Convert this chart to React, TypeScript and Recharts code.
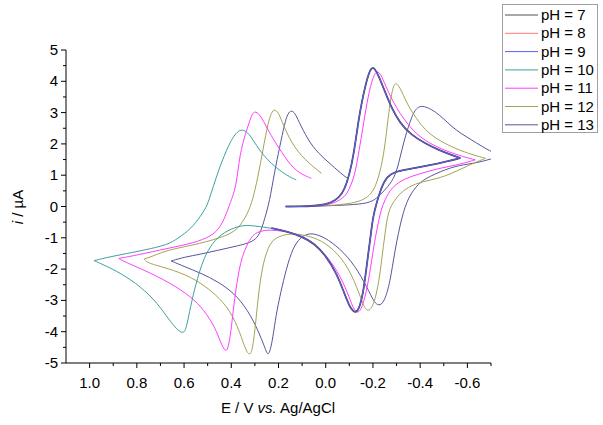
import React from "react";
import { Label, Legend, Line, LineChart, XAxis, YAxis } from "recharts";

// [E / V, i / µA], one array per scan segment
type Pt = [number, number];

// right-hand couple, shared by pH 7, 8, 9 and 10
const rightFwd: Pt[] = [
  [0.17, 0], [0.1, 0], [0.05, 0.02], [0.0, 0.06], [-0.04, 0.18], [-0.07, 0.4], [-0.09, 0.75],
  [-0.11, 1.33], [-0.125, 2.0], [-0.138, 2.71], [-0.152, 3.3], [-0.166, 3.8], [-0.18, 4.2],
  [-0.194, 4.46], [-0.208, 4.4], [-0.223, 4.2], [-0.251, 3.67], [-0.279, 3.14], [-0.315, 2.66],
  [-0.36, 2.3], [-0.42, 2.02], [-0.48, 1.8], [-0.535, 1.64], [-0.57, 1.55],
];
const rightRev: Pt[] = [
  [-0.57, 1.55], [-0.52, 1.45], [-0.478, 1.38], [-0.407, 1.27], [-0.336, 1.17], [-0.29, 1.1],
  [-0.258, 0.95], [-0.235, 0.6], [-0.215, 0.1], [-0.2, -0.33], [-0.188, -1.07], [-0.173, -1.92],
  [-0.159, -2.77], [-0.14, -3.31], [-0.123, -3.41], [-0.1, -3.2], [-0.074, -2.67], [-0.045, -2.13],
  [-0.003, -1.6], [0.047, -1.18], [0.103, -0.96], [0.16, -0.8], [0.23, -0.69],
];

// pH 10 carries on to the left-hand couple
const ph10Lower: Pt[] = [
  [0.3, -0.62], [0.345, -0.59], [0.4, -0.7], [0.457, -0.96], [0.5, -1.39], [0.529, -1.92],
  [0.557, -2.67], [0.578, -3.41], [0.59, -3.85], [0.599, -4.03], [0.612, -4.02], [0.627, -3.95],
  [0.663, -3.63], [0.712, -3.09], [0.783, -2.56], [0.868, -2.13], [0.939, -1.87], [0.981, -1.73],
];
const ph10Upper: Pt[] = [
  [0.981, -1.73], [0.911, -1.6], [0.84, -1.5], [0.769, -1.39], [0.67, -1.23], [0.627, -1.02],
  [0.571, -0.72], [0.529, -0.3], [0.5, 0.05], [0.486, 0.42], [0.465, 0.9], [0.443, 1.38],
  [0.42, 1.8], [0.4, 2.12], [0.38, 2.35], [0.358, 2.47], [0.336, 2.4], [0.316, 2.23],
  [0.273, 1.7], [0.217, 1.27], [0.16, 0.97], [0.125, 0.85],
];

const ph11Fwd: Pt[] = [
  [0.17, 0], [0.1, 0], [0.05, 0.01], [0.0, 0.04], [-0.04, 0.12], [-0.08, 0.3], [-0.1, 0.55],
  [-0.12, 0.95], [-0.13, 1.3], [-0.145, 1.95], [-0.16, 2.65], [-0.18, 3.55], [-0.2, 4.15],
  [-0.218, 4.36], [-0.235, 4.2], [-0.251, 3.9], [-0.275, 3.5], [-0.3, 3.15], [-0.33, 2.8],
  [-0.37, 2.42], [-0.42, 2.1], [-0.49, 1.83], [-0.56, 1.64], [-0.633, 1.49],
];
const ph11Rev: Pt[] = [
  [-0.633, 1.49], [-0.56, 1.33], [-0.478, 1.22], [-0.4, 1.05], [-0.336, 0.9], [-0.28, 0.63],
  [-0.25, 0.21], [-0.235, -0.1], [-0.223, -0.5], [-0.21, -1.0], [-0.2, -1.45], [-0.18, -2.45],
  [-0.16, -3.1], [-0.14, -3.44], [-0.12, -3.3], [-0.109, -3.09], [-0.074, -2.4], [-0.024, -1.76],
  [0.032, -1.28], [0.089, -0.96], [0.16, -0.8], [0.23, -0.75], [0.26, -0.76], [0.29, -0.82],
  [0.316, -0.96], [0.344, -1.39], [0.366, -1.92], [0.387, -2.99], [0.397, -3.7], [0.407, -4.3],
  [0.418, -4.63], [0.43, -4.58], [0.443, -4.37], [0.46, -4.05], [0.472, -3.84], [0.514, -3.31],
  [0.571, -2.88], [0.656, -2.45], [0.769, -2.03], [0.854, -1.76], [0.876, -1.66],
];
const ph11Upper: Pt[] = [
  [0.876, -1.66], [0.798, -1.55], [0.67, -1.34], [0.557, -1.16], [0.486, -0.96], [0.443, -0.65],
  [0.415, -0.11], [0.4, 0.2], [0.38, 0.63], [0.366, 1.49], [0.358, 1.8], [0.345, 2.2], [0.33, 2.55],
  [0.315, 2.9], [0.302, 3.06], [0.28, 2.95], [0.259, 2.66], [0.23, 2.25], [0.202, 1.91],
  [0.146, 1.27], [0.1, 1.02], [0.061, 0.9],
];

const ph12Fwd: Pt[] = [
  [0.17, 0], [0.1, 0], [0.0, 0.02], [-0.08, 0.07], [-0.14, 0.15], [-0.18, 0.3], [-0.205, 0.55],
  [-0.22, 0.85], [-0.24, 1.4], [-0.255, 2.2], [-0.267, 3.0], [-0.278, 3.6], [-0.293, 4.0],
  [-0.31, 3.85], [-0.33, 3.55], [-0.35, 3.2], [-0.385, 2.8], [-0.42, 2.45], [-0.47, 2.15],
  [-0.534, 1.9], [-0.6, 1.7], [-0.676, 1.54],
];
const ph12Rev: Pt[] = [
  [-0.676, 1.54], [-0.6, 1.3], [-0.52, 1.0], [-0.45, 0.85], [-0.378, 0.74], [-0.32, 0.47],
  [-0.293, 0.21], [-0.265, -0.11], [-0.251, -0.86], [-0.237, -1.71], [-0.225, -2.4], [-0.21, -2.95],
  [-0.195, -3.25], [-0.18, -3.34], [-0.165, -3.25], [-0.152, -2.99], [-0.109, -2.13], [-0.053, -1.5],
  [0.018, -1.07], [0.089, -0.91], [0.146, -0.86], [0.188, -0.93], [0.23, -1.07], [0.259, -1.6],
  [0.28, -2.45], [0.294, -3.52], [0.305, -4.3], [0.316, -4.75], [0.33, -4.7], [0.344, -4.48],
  [0.372, -3.84], [0.415, -3.2], [0.486, -2.67], [0.571, -2.24], [0.67, -1.97], [0.755, -1.81],
  [0.769, -1.68],
];
const ph12Upper: Pt[] = [
  [0.769, -1.68], [0.72, -1.55], [0.67, -1.39], [0.528, -1.18], [0.43, -0.96], [0.372, -0.75],
  [0.33, -0.22], [0.309, 0.21], [0.287, 0.95], [0.266, 1.8], [0.245, 2.66], [0.23, 3.0],
  [0.217, 3.12], [0.2, 3.0], [0.188, 2.76], [0.146, 2.02], [0.089, 1.49], [0.018, 1.06],
];

const ph13Fwd: Pt[] = [
  [0.17, 0], [0.1, 0], [0.0, 0.02], [-0.1, 0.05], [-0.18, 0.1], [-0.215, 0.25], [-0.251, 0.53],
  [-0.275, 0.75], [-0.293, 0.98], [-0.31, 1.4], [-0.322, 1.8], [-0.336, 2.2], [-0.35, 2.55],
  [-0.365, 2.87], [-0.378, 3.08], [-0.393, 3.18], [-0.407, 3.21], [-0.43, 3.17], [-0.464, 3.03],
  [-0.5, 2.8], [-0.534, 2.55], [-0.575, 2.32], [-0.619, 2.12], [-0.66, 1.93], [-0.69, 1.8],
  [-0.739, 1.61],
];
const ph13Rev: Pt[] = [
  [-0.739, 1.61], [-0.662, 1.43], [-0.6, 1.35], [-0.534, 1.27], [-0.435, 0.95], [-0.393, 0.74],
  [-0.35, 0.31], [-0.322, -0.33], [-0.293, -1.39], [-0.272, -2.45], [-0.25, -3.0], [-0.23, -3.18],
  [-0.21, -3.1], [-0.194, -2.88], [-0.152, -2.24], [-0.095, -1.6], [-0.024, -1.12], [0.03, -0.9],
  [0.075, -0.84], [0.117, -1.05], [0.146, -1.45], [0.174, -2.2], [0.195, -2.9], [0.21, -3.45],
  [0.224, -4.2], [0.235, -4.6], [0.245, -4.78], [0.259, -4.48], [0.287, -3.95], [0.33, -3.31],
  [0.387, -2.77], [0.457, -2.4], [0.528, -2.13], [0.599, -1.92], [0.654, -1.74],
];
const ph13Upper: Pt[] = [
  [0.654, -1.74], [0.6, -1.62], [0.528, -1.52], [0.457, -1.4], [0.387, -1.28], [0.33, -1.18],
  [0.295, -1.05], [0.275, -0.8], [0.259, -0.4], [0.238, 0.15], [0.217, 1.1], [0.195, 1.9],
  [0.174, 2.66], [0.16, 2.98], [0.146, 3.08], [0.13, 2.98], [0.117, 2.76], [0.075, 2.12],
  [0.032, 1.7], [-0.024, 1.33], [-0.081, 0.95], [-0.095, 0.9],
];

const phLabels = ["pH = 7", "pH = 8", "pH = 9", "pH = 10", "pH = 11", "pH = 12", "pH = 13"];
const phColors = ["#505050", "#ff7878", "#5a5aff", "#3fa0a0", "#ff3cff", "#a3a356", "#55559d"];
const phSegments: Pt[][][] = [
  [rightFwd, rightRev],
  [rightFwd, rightRev],
  [rightFwd, rightRev],
  [rightFwd, [...rightRev, ...ph10Lower], ph10Upper],
  [ph11Fwd, ph11Rev, ph11Upper],
  [ph12Fwd, ph12Rev, ph12Upper],
  [ph13Fwd, ph13Rev, ph13Upper],
];
// back to front, so pH 7 and 9 sit on top of the shared right couple
const drawOrder = [1, 6, 5, 4, 3, 0, 2];

const xTicks = [1.0, 0.9, 0.8, 0.7, 0.6, 0.5, 0.4, 0.3, 0.2, 0.1, 0.0, -0.1, -0.2, -0.3, -0.4, -0.5, -0.6, -0.7];
const yTicks = [-5, -4.5, -4, -3.5, -3, -2.5, -2, -1.5, -1, -0.5, 0, 0.5, 1, 1.5, 2, 2.5, 3, 3.5, 4, 4.5, 5];

const FONT = "Arial, 'Liberation Sans', sans-serif";

const XTick = (props: any) => {
  const { x, y, payload } = props;
  const v = payload.value as number;
  const major = Math.round(v * 10) % 2 === 0;
  return (
    <g>
      <line x1={x} y1={y} x2={x} y2={y + (major ? 5 : 3)} stroke="#000" />
      {major && (
        <text x={x} y={y + 25} textAnchor="middle" fontSize={15} fontFamily={FONT} fill="#000">
          {v.toFixed(1)}
        </text>
      )}
    </g>
  );
};

const YTick = (props: any) => {
  const { x, y, payload } = props;
  const v = payload.value as number;
  const major = Number.isInteger(v);
  return (
    <g>
      <line x1={x} y1={y} x2={x - (major ? 5 : 3)} y2={y} stroke="#000" />
      {major && (
        <text x={x - 8} y={y + 5} textAnchor="end" fontSize={15} fontFamily={FONT} fill="#000">
          {v}
        </text>
      )}
    </g>
  );
};

const XTitle = () => (
  <text x={278} y={413} textAnchor="middle" fontSize={15} fontFamily={FONT} fill="#000">
    E / V <tspan fontStyle="italic">vs.</tspan> Ag/AgCl
  </text>
);

const YTitle = () => (
  <text x={23} y={207} transform="rotate(-90, 23, 207)" textAnchor="middle" fontSize={15} fontFamily={FONT} fill="#000">
    <tspan fontStyle="italic">i</tspan> / µA
  </text>
);

const LegendBox = () => (
  <svg width={97} height={130} style={{ display: "block" }}>
    <rect x={0.5} y={0.5} width={95} height={128} fill="#fff" stroke="#a0a0a0" />
    {phLabels.map((label, k) => (
      <g key={label}>
        <line x1={3} x2={36} y1={11 + k * 18.3} y2={11 + k * 18.3} stroke={phColors[k]} />
        <text x={39} y={16 + k * 18.3} fontSize={15} fontFamily={FONT} fill="#000">
          {label}
        </text>
      </g>
    ))}
  </svg>
);

export default function App() {
  return (
    <div style={{ position: "absolute", left: 0, top: 0, width: 603, height: 425, background: "#fff" }}>
      <LineChart width={603} height={425} margin={{ top: 50, right: 112, bottom: 0, left: 0 }}>
        <XAxis
          type="number"
          dataKey="E"
          domain={[-0.7, 1.1]}
          reversed
          allowDataOverflow
          ticks={xTicks}
          interval={0}
          tick={XTick}
          tickLine={false}
          tickSize={0}
          tickMargin={0}
          height={62}
          axisLine={{ stroke: "#000" }}
        >
          <Label content={XTitle} />
        </XAxis>
        <YAxis
          type="number"
          dataKey="i"
          domain={[-5, 5]}
          ticks={yTicks}
          interval={0}
          tick={YTick}
          tickLine={false}
          tickSize={0}
          tickMargin={0}
          width={66}
          axisLine={{ stroke: "#000" }}
        >
          <Label content={YTitle} />
        </YAxis>
        <Legend
          layout="vertical"
          align="center"
          verticalAlign="middle"
          wrapperStyle={{ left: 502, top: 4, width: 97, height: 130 }}
          content={LegendBox}
        />
        {drawOrder.flatMap((k) =>
          phSegments[k].map((seg, s) => (
            <Line
              key={`${phLabels[k]}-${s}`}
              name={phLabels[k]}
              data={seg.map(([E, i]) => ({ E, i }))}
              dataKey="i"
              type="basis"
              stroke={phColors[k]}
              strokeWidth={k === 0 ? 1.8 : 1}
              dot={false}
              activeDot={false}
              legendType="none"
              isAnimationActive={false}
            />
          ))
        )}
      </LineChart>
    </div>
  );
}
